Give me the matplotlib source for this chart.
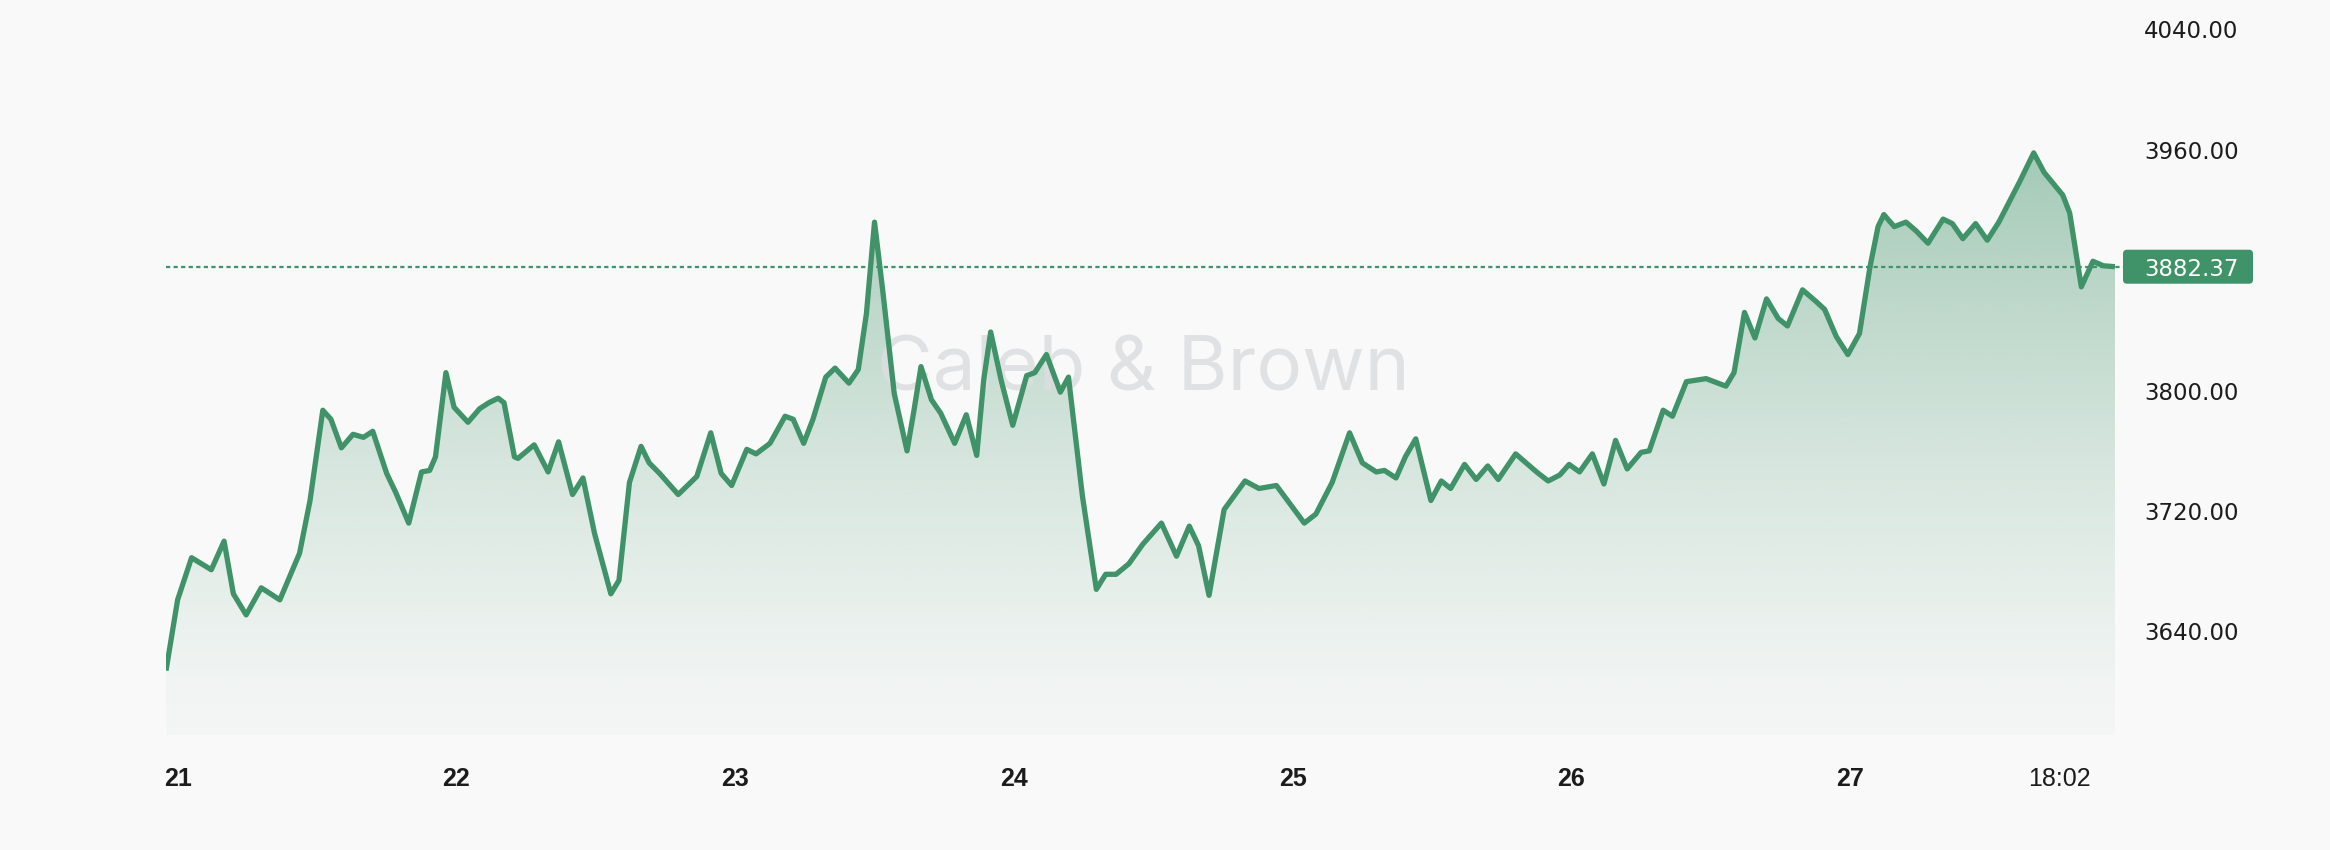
import matplotlib
matplotlib.use('Agg')
import matplotlib.pyplot as plt
import matplotlib.transforms as mtransforms
from matplotlib.patches import FancyBboxPatch
import numpy as np

# hours counted from the 21st, 00:00 ; price
hours = [-1.0, 0.0, 1.2, 2.9, 4.0, 4.8, 5.9, 7.2, 8.8, 10.5, 11.4, 12.5, 13.2, 14.1,
         15.1, 16.0, 16.8, 18.0, 18.8, 19.9, 21.0, 21.7, 22.2, 23.1, 23.8, 25.0, 26.0,
         26.8, 27.6, 28.1, 29.0, 29.3, 30.7, 31.9, 32.8, 34.0, 34.9, 35.9, 37.3, 38.0,
         38.9, 39.9, 40.6, 41.5, 43.1, 44.7, 45.9, 46.8, 47.7, 49.0, 49.8, 51.0, 52.3,
         53.0, 53.9, 54.7, 55.8, 56.6, 57.8, 58.6, 59.3, 60.0, 60.7, 61.7, 62.8, 63.4,
         64.0, 64.9, 65.7, 66.9, 67.9, 68.8, 69.4, 70.0, 70.9, 71.9, 73.1, 73.8, 74.8,
         76.0, 76.7, 77.9, 79.1, 79.9, 80.8, 81.9, 83.1, 84.7, 86.0, 87.1, 87.9, 88.8,
         90.1, 91.9, 93.1, 94.6, 97.0, 98.0, 99.4, 100.9, 102.0, 103.2, 103.9, 104.9,
         105.7, 106.6, 107.9, 108.8, 109.6, 110.8, 111.8, 112.8, 113.7, 115.2, 117.0,
         118.0, 119.0, 119.8, 120.7, 121.8, 122.8, 123.8, 124.8, 126.0, 126.7, 127.9,
         128.7, 129.9, 131.6, 133.3, 134.0, 134.9, 135.8, 136.8, 137.8, 138.6, 139.9,
         141.1, 141.8, 142.8, 143.8, 144.8, 145.7, 146.4, 146.9, 147.8, 148.8, 149.7,
         150.7, 152.0, 152.8, 153.7, 154.8, 155.8, 156.8, 158.6, 159.8, 160.7, 162.3,
         162.9, 163.9, 164.9, 165.8, 166.8]
prices = [3614, 3661, 3689, 3681, 3700, 3665, 3651, 3669, 3661, 3692, 3727, 3787, 3781, 3762,
          3771, 3769, 3773, 3745, 3732, 3712, 3746, 3747, 3756, 3812, 3789, 3779, 3788,
          3792, 3795, 3792, 3756, 3755, 3764, 3746, 3766, 3731, 3742, 3705, 3665, 3674,
          3739, 3763, 3752, 3745, 3731, 3743, 3772, 3745, 3737, 3761, 3758, 3765, 3783,
          3781, 3765, 3781, 3809, 3815, 3805, 3814, 3851, 3912, 3867, 3798, 3760, 3787,
          3816, 3794, 3785, 3765, 3784, 3757, 3807, 3839, 3807, 3777, 3810, 3812, 3824,
          3799, 3809, 3730, 3668, 3678, 3678, 3685, 3698, 3712, 3690, 3710, 3697, 3664,
          3721, 3740, 3735, 3737, 3712, 3718, 3739, 3772, 3752, 3746, 3747, 3742,
          3756, 3768, 3727, 3740, 3735, 3751, 3741, 3750, 3741, 3758, 3746,
          3740, 3744, 3751, 3746, 3758, 3738, 3767, 3748, 3759, 3760, 3787,
          3783, 3806, 3808, 3803, 3812, 3852, 3835, 3861, 3848, 3843, 3867,
          3859, 3854, 3836, 3824, 3838, 3882, 3909, 3917, 3909, 3912, 3906,
          3898, 3914, 3911, 3901, 3911, 3900, 3912, 3939, 3958, 3945, 3930,
          3918, 3869, 3886, 3883, 3882.37]
last_price = 3882.37

y_ticks = [3640, 3720, 3800, 3960, 4040]
day_hours = [0, 24, 48, 72, 96, 120, 144]
day_labels = ['21', '22', '23', '24', '25', '26', '27']
now_hour = 162 + 2 / 60.0
now_label = '18:02'

BG = '#f9f9f9'
GREEN = '#409268'
TXT = '#1c1c1c'

fig = plt.figure(figsize=(23.3, 8.5), dpi=100, facecolor=BG)
ax = fig.add_axes([166 / 2330, 115 / 850, 1949 / 2330, 735 / 850])
ax.set_facecolor(BG)
y0, y1 = 3571.2, 4059.6

# gradient area under the line
poly = ax.fill_between(hours, prices, y0, facecolor='none', edgecolor='none')
yy = np.linspace(y0, y1, 400)
t = np.clip((yy - y0) / (3959 - y0), 0, None)
alpha = 0.03 + 0.43 * t ** 1.3
rgba = np.zeros((len(yy), 1, 4))
rgba[:, 0, :3] = matplotlib.colors.to_rgb(GREEN)
rgba[:, 0, 3] = np.clip(alpha, 0, 1)
img = ax.imshow(rgba, extent=[hours[0], hours[-1], y0, y1], origin='lower',
                aspect='auto', interpolation='bilinear', zorder=1)
img.set_clip_path(poly.get_paths()[0], transform=ax.transData)

ax.text(0.5013, 0.4946, 'Caleb & Brown', transform=ax.transAxes, ha='center', va='center',
        fontsize=55, family=['Inter', 'DejaVu Sans'], color='#dcdde0', alpha=0.85, zorder=2)

ax.plot(hours, prices, color=GREEN, lw=3.8, solid_joinstyle='round',
        solid_capstyle='butt', zorder=4)
ax.axhline(last_price, xmin=0, xmax=(2123 - 166) / 1949, color=GREEN, lw=1.6,
           linestyle=(0, (1.9, 1.5)), clip_on=False, zorder=3)

ax.set_xlim(hours[0], hours[-1])
ax.set_ylim(y0, y1)
for s in ax.spines.values():
    s.set_visible(False)

ax.yaxis.tick_right()
ax.set_yticks(y_ticks)
ax.set_yticklabels(['%.2f' % v for v in y_ticks], family='DejaVu Sans', fontsize=16.5, color=TXT)
ax.tick_params(axis='y', length=0, pad=20.9)

ax.set_xticks(day_hours + [now_hour])
ax.set_xticklabels(day_labels + [now_label], family='Liberation Sans', fontsize=18, color=TXT)
ax.tick_params(axis='x', length=0, pad=31.5)
for lbl in ax.get_xticklabels():
    lbl.set_va('center')
    if lbl.get_text() != now_label:
        lbl.set_fontweight('bold')

# price tag on the right
ypix = ax.transData.transform((0, last_price))[1]
tag = FancyBboxPatch((2123, ypix - 17), 130, 34, boxstyle='round,pad=0,rounding_size=4',
                     facecolor=GREEN, edgecolor='none', transform=mtransforms.IdentityTransform())
fig.add_artist(tag)
fig.text(2144, ypix, '%.2f' % last_price, transform=mtransforms.IdentityTransform(),
         ha='left', va='center_baseline', color='white', fontsize=16.5, family='DejaVu Sans')

fig.savefig('out.png', dpi=100, facecolor=BG)
